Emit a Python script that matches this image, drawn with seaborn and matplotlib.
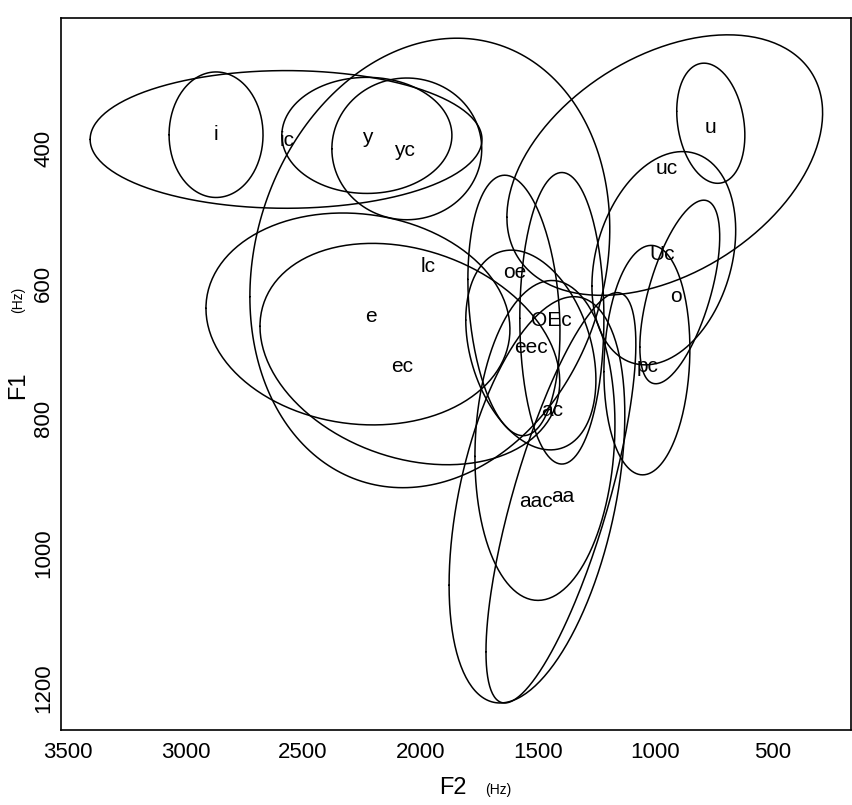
import numpy as np
import pandas as pd
import seaborn as sns
import matplotlib.pyplot as plt

# vowel ellipses: centre, half extent along F2 / F1, tilt (correlation)
vowels = ["i", "ic", "y", "yc", "lc", "e", "ec", "u", "uc", "Uc",
          "o", "pc", "oe", "OEc", "eec", "ac", "aac", "aa"]
f2_center = [2870, 2572, 2228, 2058, 1960, 2266, 2045, 764, 960, 964,
             896, 1036, 1602, 1398, 1530, 1470, 1504, 1402]
f1_center = [380, 387, 381, 401, 570, 653, 705, 363, 425, 563,
             613, 714, 633, 652, 699, 833, 921, 918]
f2_radius = [200, 834, 362, 319, 766, 647, 638, 145, 672, 306,
             170, 183, 196, 179, 277, 298, 374, 319]
f1_radius = [93, 102, 86, 105, 333, 157, 164, 89, 193, 158,
             136, 170, 193, 216, 148, 237, 301, 304]
tilt = [0.0, 0.0, 0.0, 0.0, 0.15, -0.1, -0.25, -0.2, 0.4, 0.26,
        0.6, 0.1, -0.2, 0.0, -0.3, 0.1, 0.42, 0.75]
label_f2 = [2870, 2568, 2228, 2070, 1968, 2211, 2079, 764, 951, 973,
            913, 1032, 1598, 1445, 1530, 1441, 1510, 1395]
label_f1 = [380, 388, 384, 404, 575, 650, 724, 369, 430, 558,
            619, 724, 584, 656, 695, 788, 924, 916]

x_ticks = [3500, 3000, 2500, 2000, 1500, 1000, 500]
y_ticks = [400, 600, 800, 1000, 1200]

# outline points of every ellipse
t = np.linspace(0, 2 * np.pi, 240)
frames = []
for k, name in enumerate(vowels):
    r = tilt[k]
    frames.append(pd.DataFrame({
        "vowel": name,
        "order": np.arange(len(t)),
        "F2": f2_center[k] + f2_radius[k] * np.cos(t),
        "F1": f1_center[k] + f1_radius[k] * (r * np.cos(t) + np.sqrt(1 - r * r) * np.sin(t)),
    }))
outline = pd.concat(frames, ignore_index=True)

sns.set_style("white")
plt.rcParams["font.family"] = ["Liberation Sans Narrow", "Liberation Sans", "DejaVu Sans"]
plt.rcParams["text.color"] = "black"

fig = plt.figure(figsize=(8.52, 8.05), dpi=100)
ax = fig.add_axes([0.0716, 0.0932, 0.927, 0.8845])

sns.lineplot(data=outline, x="F2", y="F1", units="vowel", estimator=None,
             sort=False, color="black", linewidth=1.1, ax=ax)

for k, name in enumerate(vowels):
    ax.text(label_f2[k], label_f1[k], name, fontsize=15, ha="center", va="center",
            color="black")

ax.set_xlim(3530, 168)
ax.set_ylim(1262, 207)
ax.set_xticks(x_ticks)
ax.set_yticks(y_ticks)
ax.set_xticklabels([str(v) for v in x_ticks], fontsize=16)
ax.set_yticklabels([str(v) for v in y_ticks], fontsize=16, rotation=90, va="center")
ax.tick_params(axis="both", direction="out", length=4, width=1,
               colors="black", labelcolor="black")
ax.tick_params(axis="y", pad=1)
ax.tick_params(axis="x", pad=5)
ax.set(xlabel=None, ylabel=None)
for s in ax.spines.values():
    s.set_visible(True)
    s.set_color("black")
    s.set_linewidth(1.2)

fig.text(453 / 852, 1 - 788 / 805, "F2", fontsize=17, ha="center", va="center")
fig.text(498 / 852, 1 - 790 / 805, "(Hz)", fontsize=10, ha="center", va="center")
fig.text(18 / 852, 1 - 385 / 805, "F1", fontsize=17, ha="center", va="center", rotation=90)
fig.text(18 / 852, 1 - 300 / 805, "(Hz)", fontsize=10, ha="center", va="center", rotation=90)

fig.savefig("out.png", dpi=100)
